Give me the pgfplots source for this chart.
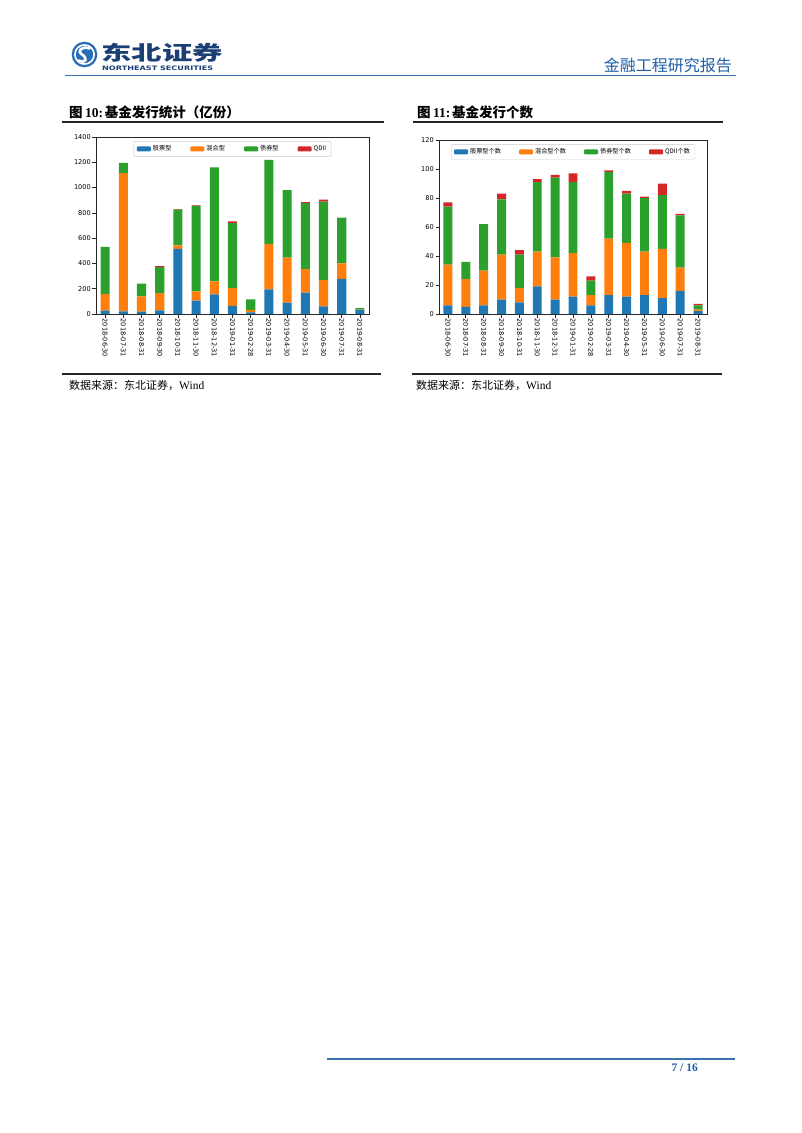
\documentclass[border=0pt]{standalone}
\usepackage{pgfplots}
\pgfplotsset{compat=1.18}
\usepackage{pgfplotstable}
\usepackage{graphicx}
\usepackage{fontspec}
\setmainfont{Liberation Serif}
\newfontfamily\cjk{Noto Sans CJK SC}
\newfontfamily\dejavu{DejaVu Sans}
\definecolor{tabblue}{HTML}{1F77B4}
\definecolor{taborange}{HTML}{FF7F0E}
\definecolor{tabgreen}{HTML}{2CA02C}
\definecolor{tabred}{HTML}{D62728}
\definecolor{hdrblue}{HTML}{3A72B0}
\definecolor{logoblue}{HTML}{2A6DB5}
\definecolor{navy}{HTML}{1B3F74}
\definecolor{rptblue}{HTML}{1F5FAA}

\pgfplotstableread{
x b o g r
0 27 131 372 0
1 20 1095 80 0
2 18 122 100 0
3 28 137 205 8
4 515 28 283 4
5 105 75 675 5
6 155 103 902 0
7 65 140 513 14
8 13 19 84 0
9 195 360 665 0
10 90 355 535 0
11 170 185 523 7
12 60 208 620 17
13 278 122 362 0
14 32 2 12 0
}\fundA

\pgfplotstableread{
x b o g r
0 6 28 40 3
1 5 19 12 0
2 6 24 32 0
3 10 31 38 4
4 8 10 23 3
5 19 24 48 2
6 10 29 55 2
7 12 30 49 6
8 6 7 10 3
9 13 39 46 1
10 12 37 34 2
11 13 30 37 1
12 11 34 37 8
13 16 16 36 1
14 2 1 3 1
}\fundB

\pgfplotsset{
  barleg/.style={legend image code/.code={\fill[##1] (0pt,-2.5pt) rectangle (14pt,2.5pt);}},
  mybars/.style={
    ybar stacked, bar width=0.5,
    scale only axis, anchor=south west,
    xmin=-0.5, xmax=14.5, ymin=0,
    xtick={0,...,14},
    xticklabels={2018-06-30,2018-07-31,2018-08-31,2018-09-30,2018-10-31,2018-11-30,2018-12-31,2019-01-31,2019-02-28,2019-03-31,2019-04-30,2019-05-31,2019-06-30,2019-07-31,2019-08-31},
    tick align=outside, tick pos=left,
    major tick length=3.5pt,
    tick style={black!85, line width=0.7pt},
    axis line style={black!85, line width=0.7pt},
    /pgf/number format/assume math mode=true,
    /pgf/number format/1000 sep={},
    xticklabel style={rotate=-90, anchor=west, inner sep=1pt, font=\dejavu\fontsize{6.6}{7}\selectfont},
    yticklabel style={inner sep=1.5pt, font=\dejavu\fontsize{6.6}{7}\selectfont},
    legend columns=4,
    legend style={at={(0.5,0.975)}, anchor=north, draw=black!20, rounded corners=1pt,
      font=\cjk\fontsize{6.2}{7}\selectfont, inner xsep=3pt, inner ysep=2pt,
      /tikz/every even column/.append style={column sep=16pt}},
    legend cell align=left,
  }
}

\begin{document}
\begin{tikzpicture}[x=1pt,y=1pt]
\path[fill=white] (0,0) rectangle (802,-1133);

% ---------- header ----------
\fill[logoblue] (84.5,-54.5) circle (12.8);
\draw[white, line width=1.6] (84.5,-54.5) circle (9.6);
\draw[white, line width=2.6, line cap=round]
  (89.5,-48.5) .. controls (82,-45.5) and (76.5,-51) .. (82,-54.5)
  .. controls (88,-58) and (86,-64) .. (78.5,-60.5);
\node[anchor=west, inner sep=0, text=navy] at (101,-52.5)
  {\scalebox{1.52}[1]{\cjk\bfseries\fontsize{20}{20}\selectfont 东北证券}};
\node[anchor=west, inner sep=0, text=navy] at (102,-68.3)
  {\scalebox{1.33}[1]{\dejavu\bfseries\fontsize{6.1}{6}\selectfont NORTHEAST SECURITIES}};
\node[anchor=east, inner sep=0, text=rptblue] at (732,-65)
  {\cjk\fontsize{16}{16}\selectfont 金融工程研究报告};
\draw[hdrblue, line width=1.4] (65,-75.5) -- (736,-75.5);

% ---------- titles ----------
\node[anchor=west, inner sep=0] at (69,-112)
  {{\cjk\bfseries\fontsize{13.5}{14}\selectfont 图} {\bfseries\fontsize{13.5}{14}\selectfont 10:}\,{\cjk\bfseries\fontsize{13.5}{14}\selectfont 基金发行统计（亿份）}};
\draw[black!85, line width=1.1] (62,-122) -- (384,-122);
\node[anchor=west, inner sep=0] at (417,-112)
  {{\cjk\bfseries\fontsize{13.5}{14}\selectfont 图} {\bfseries\fontsize{13.5}{14}\selectfont 11:}\,{\cjk\bfseries\fontsize{13.5}{14}\selectfont 基金发行个数}};
\draw[black!85, line width=1.1] (413,-122) -- (723,-122);

% ---------- chart 1 ----------
\begin{axis}[mybars, at={(96pt,-314pt)}, width=273pt, height=177pt,
  ymax=1400, ytick={0,200,...,1400},
  legend style={/tikz/every even column/.append style={column sep=17pt}}]
\addplot[fill=tabblue, draw=none, barleg] table[x=x,y=b]{\fundA};
\addplot[fill=taborange, draw=none, barleg] table[x=x,y=o]{\fundA};
\addplot[fill=tabgreen, draw=none, barleg] table[x=x,y=g]{\fundA};
\addplot[fill=tabred, draw=none, barleg] table[x=x,y=r]{\fundA};
\legend{股票型,混合型,债券型,QDII}
\end{axis}

% ---------- chart 2 ----------
\begin{axis}[mybars, at={(439pt,-314pt)}, width=268pt, height=174pt,
  ymax=120, ytick={0,20,...,120}]
\addplot[fill=tabblue, draw=none, barleg] table[x=x,y=b]{\fundB};
\addplot[fill=taborange, draw=none, barleg] table[x=x,y=o]{\fundB};
\addplot[fill=tabgreen, draw=none, barleg] table[x=x,y=g]{\fundB};
\addplot[fill=tabred, draw=none, barleg] table[x=x,y=r]{\fundB};
\legend{股票型个数,混合型个数,债券型个数,QDII个数}
\end{axis}

% ---------- sources ----------
\draw[black!85, line width=1.1] (62,-374) -- (381,-374);
\node[anchor=west, inner sep=0] at (69,-385.5)
  {{\cjk\fontsize{11}{12}\selectfont 数据来源：东北证券，}{\fontsize{11.5}{12}\selectfont Wind}};
\draw[black!85, line width=1.1] (412,-374) -- (722,-374);
\node[anchor=west, inner sep=0] at (416,-385.5)
  {{\cjk\fontsize{11}{12}\selectfont 数据来源：东北证券，}{\fontsize{11.5}{12}\selectfont Wind}};

% ---------- footer ----------
\draw[hdrblue, line width=1.4] (327,-1059) -- (735,-1059);
\node[anchor=east, inner sep=0, text=rptblue] at (698,-1068)
  {\bfseries\fontsize{11.5}{12}\selectfont 7 / 16};
\end{tikzpicture}
\end{document}
